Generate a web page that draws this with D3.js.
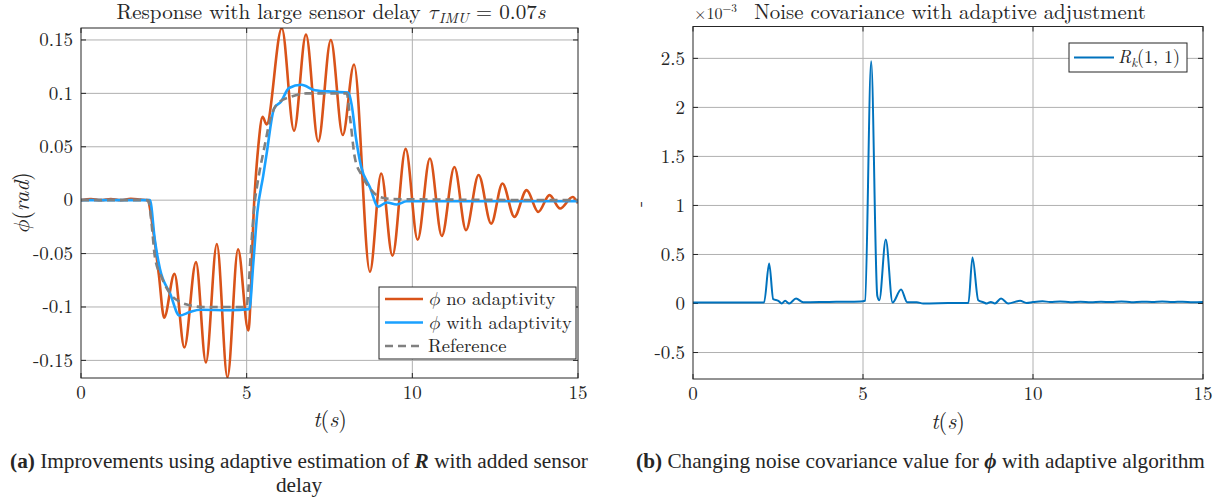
<!DOCTYPE html>
<html><head><meta charset="utf-8">
<script src="https://cdn.jsdelivr.net/npm/d3@7"></script>
<style>body{margin:0;background:#fff}svg{display:block}</style>
</head><body>
<svg id="c" width="1223" height="501" font-family="'Latin Modern Roman','Latin Modern Math','Liberation Serif',serif" fill="#262626"></svg>
<script>
// ---------- DATA ----------
const xTicks = [0, 5, 10, 15];
const phiTicks = [-0.15, -0.1, -0.05, 0, 0.05, 0.1, 0.15];
const phiTickLabels = ["-0.15", "-0.1", "-0.05", "0", "0.05", "0.1", "0.15"];
const rTicks = [-0.5, 0, 0.5, 1, 1.5, 2, 2.5];
const rTickLabels = ["-0.5", "0", "0.5", "1", "1.5", "2", "2.5"];

const tNoAdapt = [0, 0.3, 0.6, 0.9, 1.2, 1.5, 1.8, 2.0, 2.2, 2.35, 2.51, 2.82, 3.12, 3.47, 3.77, 4.10, 4.42, 4.74, 5.05, 5.23, 5.35, 5.48, 5.6, 6.06, 6.43, 6.79, 7.16, 7.54, 7.90, 8.24, 8.72, 9.06, 9.40, 9.80, 10.16, 10.53, 10.89, 11.27, 11.62, 12.0, 12.38, 12.72, 13.08, 13.45, 13.80, 14.14, 14.46, 14.84, 15.0];
const phiNoAdapt = [0, 0.001, 0, 0.001, 0, 0.0012, 0.0005, 0, -0.033, -0.07, -0.11, -0.069, -0.138, -0.058, -0.152, -0.041, -0.166, -0.046, -0.122, 0, 0.05, 0.078, 0.071, 0.161, 0.065, 0.155, 0.055, 0.150, 0.061, 0.127, -0.067, 0.025, -0.052, 0.048, -0.037, 0.039, -0.0335, 0.031, -0.028, 0.0235, -0.022, 0.0156, -0.0156, 0.0094, -0.011, 0.0047, -0.0078, 0.003, -0.003];

const tAdapt = [0, 2.08, 2.23, 2.38, 2.69, 2.97, 3.29, 3.59, 4.5, 5.08, 5.2, 5.32, 5.5, 5.6, 5.83, 6.03, 6.28, 6.65, 7.06, 7.62, 8.07, 8.17, 8.3, 8.45, 8.72, 8.97, 9.23, 9.53, 9.83, 12, 15];
const phiAdapt = [0, 0, -0.0375, -0.064, -0.0875, -0.108, -0.1047, -0.1026, -0.103, -0.102, -0.059, -0.012, 0.023, 0.043, 0.086, 0.092, 0.105, 0.108, 0.103, 0.1016, 0.1007, 0.089, 0.058, 0.032, 0.012, -0.006, -0.0022, -0.004, -0.001, -0.001, -0.001];

const tRef = [0, 2.03, 2.13, 2.23, 2.43, 2.69, 2.99, 3.29, 3.69, 5.0, 5.05, 5.15, 5.25, 5.31, 5.57, 5.68, 5.95, 6.35, 6.81, 8.02, 8.12, 8.27, 8.47, 8.72, 9.02, 9.43, 15];
const phiRef = [0, 0, -0.022, -0.053, -0.072, -0.0875, -0.0954, -0.0985, -0.1, -0.1, -0.084, -0.0375, 0, 0.0125, 0.055, 0.072, 0.091, 0.097, 0.1, 0.1, 0.077, 0.039, 0.0235, 0.011, 0.003, 0.001, 0];

const tR = [0, 2.09, 2.24, 2.36, 2.51, 2.61, 2.71, 2.83, 3.03, 3.24, 4.0, 4.6, 5.0, 5.06, 5.24, 5.42, 5.48, 5.67, 5.87, 6.12, 6.30, 6.58, 6.77, 7.5, 8.1, 8.22, 8.39, 8.54, 8.64, 8.76, 8.88, 9.06, 9.27, 9.62, 9.81, 10.0, 10.28, 10.5, 10.8, 11.1, 11.4, 11.7, 12.0, 12.3, 12.6, 12.9, 13.2, 13.5, 13.8, 14.1, 14.4, 14.7, 15.0];
const rValues = [0.01, 0.01, 0.408, 0.044, 0.027, 0, 0.027, 0, 0.051, 0.013, 0.016, 0.018, 0.023, 0.03, 2.47, 0.08, 0.034, 0.653, 0.01, 0.143, 0.013, 0.013, 0, 0.004, 0.006, 0.47, 0.034, 0.013, 0, 0.016, 0, 0.051, 0, 0.027, 0.006, 0.015, 0.023, 0.015, 0.02, 0.014, 0.019, 0.013, 0.018, 0.015, 0.02, 0.014, 0.018, 0.016, 0.021, 0.015, 0.019, 0.014, 0.016];

// ---------- LAYOUT ----------
const svg = d3.select("#c");
const gridCol = "#b0b0b0", axisCol = "#262626";
const tickFont = 19;
const capFont = "'Liberation Serif','Times New Roman',serif";

function fit(sel, target) {
  const fs = parseFloat(sel.attr("font-size"));
  const w = sel.node().getComputedTextLength();
  if (w > 0) sel.attr("font-size", (fs * target / w).toFixed(2));
  return sel;
}

function panel(cfg) {
  const x = d3.scaleLinear().domain([0, 15]).range([cfg.x0, cfg.x1]);
  const y = d3.scaleLinear().domain(cfg.yDomain).range([cfg.yBot, cfg.yTop]);
  const g = svg.append("g");
  g.selectAll(".gx").data(xTicks.filter(d => d > 0 && d < 15)).join("line")
    .attr("x1", d => x(d)).attr("x2", d => x(d)).attr("y1", cfg.yTop).attr("y2", cfg.yBot)
    .attr("stroke", gridCol).attr("stroke-width", 1);
  g.selectAll(".gy").data(cfg.yTicks).join("line")
    .attr("x1", cfg.x0).attr("x2", cfg.x1).attr("y1", d => y(d)).attr("y2", d => y(d))
    .attr("stroke", gridCol).attr("stroke-width", 1);
  const tl = 5;
  g.selectAll(".tb").data(xTicks).join("path")
    .attr("d", d => `M${x(d)},${cfg.yBot}v${-tl}M${x(d)},${cfg.yTop}v${tl}`)
    .attr("stroke", axisCol).attr("stroke-width", 1);
  g.selectAll(".tl").data(cfg.yTicks).join("path")
    .attr("d", d => `M${cfg.x0},${y(d)}h${tl}M${cfg.x1},${y(d)}h${-tl}`)
    .attr("stroke", axisCol).attr("stroke-width", 1);
  g.selectAll(".xl").data(xTicks).join("text")
    .attr("x", d => x(d)).attr("y", cfg.yBot + 21).attr("text-anchor", "middle")
    .attr("font-size", tickFont).text(d => d);
  g.selectAll(".yl").data(cfg.yTicks).join("text")
    .attr("x", cfg.x0 - 8).attr("y", d => y(d)).attr("dy", "0.33em").attr("text-anchor", "end")
    .attr("font-size", tickFont).text((d, i) => cfg.yTickLabels[i]);
  return {x, y, g};
}

function box(cfg) {
  svg.append("rect").attr("x", cfg.x0).attr("y", cfg.yTop)
    .attr("width", cfg.x1 - cfg.x0).attr("height", cfg.yBot - cfg.yTop)
    .attr("fill", "none").attr("stroke", axisCol).attr("stroke-width", 1);
}

// ----- Left panel -----
const L = {x0: 81, x1: 578, yTop: 28, yBot: 378, yDomain: [-0.1665, 0.1612], yTicks: phiTicks, yTickLabels: phiTickLabels};
const pl = panel(L);
svg.append("clipPath").attr("id", "clipL").append("rect")
  .attr("x", L.x0).attr("y", L.yTop).attr("width", L.x1 - L.x0).attr("height", L.yBot - L.yTop);
const lineL = d3.line().x(d => pl.x(d[0])).y(d => pl.y(d[1])).curve(d3.curveMonotoneX);
const seriesL = [
  {t: tNoAdapt, v: phiNoAdapt, color: "#D95319", dash: null, w: 2.6},
  {t: tAdapt, v: phiAdapt, color: "#1AA1FF", dash: null, w: 2.6},
  {t: tRef, v: phiRef, color: "#808080", dash: "8,5", w: 2.6}
];
svg.append("g").attr("clip-path", "url(#clipL)").selectAll("path").data(seriesL).join("path")
  .attr("d", s => lineL(s.t.map((t, i) => [t, s.v[i]])))
  .attr("fill", "none").attr("stroke", s => s.color).attr("stroke-width", s => s.w)
  .attr("stroke-dasharray", s => s.dash);
box(L);

// title
const tl = svg.append("text").attr("x", 331).attr("y", 19).attr("text-anchor", "middle").attr("font-size", 19);
tl.append("tspan").text("Response with large sensor delay ");
tl.append("tspan").attr("font-style", "italic").text("τ");
tl.append("tspan").attr("font-style", "italic").attr("font-size", "0.7em").attr("dy", "0.25em").text("IMU");
tl.append("tspan").attr("dy", "-0.18em").text(" = 0.07");
tl.append("tspan").attr("font-style", "italic").text("s");
fit(tl, 429);

// axis labels
function tLabel(cx, cy) {
  const t = svg.append("text").attr("x", cx).attr("y", cy).attr("text-anchor", "middle").attr("font-size", 22);
  t.append("tspan").attr("font-style", "italic").text("t");
  t.append("tspan").text("(");
  t.append("tspan").attr("font-style", "italic").text("s");
  t.append("tspan").text(")");
  return t;
}
tLabel(330, 427);
const yl = svg.append("text").attr("transform", "translate(29,203) rotate(-90)").attr("text-anchor", "middle").attr("font-size", 22);
yl.append("tspan").attr("font-style", "italic").text("ϕ");
yl.append("tspan").text("(");
yl.append("tspan").attr("font-style", "italic").text("rad");
yl.append("tspan").text(")");

// legend left
const legL = svg.append("g");
legL.append("rect").attr("x", 379).attr("y", 287).attr("width", 197).attr("height", 72)
  .attr("fill", "#fff").attr("stroke", axisCol).attr("stroke-width", 1);
const legNames = [["ϕ", " no adaptivity"], ["ϕ", " with adaptivity"], ["", "Reference"]];
const legTexts = [];
seriesL.forEach((s, i) => {
  const yy = 299 + i * 23.5;
  legL.append("line").attr("x1", 385).attr("x2", 423).attr("y1", yy).attr("y2", yy)
    .attr("stroke", s.color).attr("stroke-width", s.w).attr("stroke-dasharray", s.dash);
  const t = legL.append("text").attr("x", 428).attr("y", yy).attr("dy", "0.33em").attr("font-size", 18);
  if (legNames[i][0]) t.append("tspan").attr("font-style", "italic").text(legNames[i][0]);
  t.append("tspan").text(legNames[i][1]);
  legTexts.push(t);
});
fit(legTexts[1], 144);
legTexts[0].attr("font-size", legTexts[1].attr("font-size"));
legTexts[2].attr("font-size", legTexts[1].attr("font-size"));

// ----- Right panel -----
const R = {x0: 693, x1: 1203, yTop: 26.5, yBot: 379, yDomain: [-0.77, 2.825], yTicks: rTicks, yTickLabels: rTickLabels};
const pr = panel(R);
svg.append("clipPath").attr("id", "clipR").append("rect")
  .attr("x", R.x0).attr("y", R.yTop).attr("width", R.x1 - R.x0).attr("height", R.yBot - R.yTop);
const lineR = d3.line().x(d => pr.x(d[0])).y(d => pr.y(d[1])).curve(d3.curveMonotoneX);
svg.append("g").attr("clip-path", "url(#clipR)").append("path")
  .attr("d", lineR(tR.map((t, i) => [t, rValues[i]])))
  .attr("fill", "none").attr("stroke", "#0072BD").attr("stroke-width", 2);
box(R);

// exponent + title
const ex = svg.append("text").attr("x", 694).attr("y", 19).attr("font-size", 16);
ex.append("tspan").text("×10");
ex.append("tspan").attr("font-size", "0.7em").attr("dy", "-0.6em").text("−3");
const rt = svg.append("text").attr("x", 950).attr("y", 19).attr("text-anchor", "middle").attr("font-size", 19)
  .text("Noise covariance with adaptive adjustment");
fit(rt, 392);
tLabel(948, 429);
svg.append("text").attr("transform", "translate(645,204) rotate(-90)").attr("text-anchor", "middle").attr("font-size", 18).text("-");

// legend right
const legR = svg.append("g");
legR.append("rect").attr("x", 1069).attr("y", 43).attr("width", 118).attr("height", 29)
  .attr("fill", "#fff").attr("stroke", axisCol).attr("stroke-width", 1);
legR.append("line").attr("x1", 1074).attr("x2", 1114).attr("y1", 57.5).attr("y2", 57.5)
  .attr("stroke", "#0072BD").attr("stroke-width", 2);
const lr = legR.append("text").attr("x", 1118).attr("y", 57.5).attr("dy", "0.33em").attr("font-size", 18);
lr.append("tspan").attr("font-style", "italic").text("R");
lr.append("tspan").attr("font-style", "italic").attr("font-size", "0.7em").attr("dy", "0.3em").text("k");
lr.append("tspan").attr("dy", "-0.21em").text("(1, 1)");
fit(lr, 62);

// captions
const c1 = svg.append("text").attr("x", 299).attr("y", 468).attr("text-anchor", "middle").attr("font-size", 19).attr("font-family", capFont);
c1.append("tspan").attr("font-weight", "bold").text("(a)");
c1.append("tspan").text(" Improvements using adaptive estimation of ");
c1.append("tspan").attr("font-weight", "bold").attr("font-style", "italic").text("R");
c1.append("tspan").text(" with added sensor");
fit(c1, 578);
svg.append("text").attr("x", 299).attr("y", 492).attr("text-anchor", "middle").attr("font-family", capFont)
  .attr("font-size", c1.attr("font-size")).text("delay");
const c2 = svg.append("text").attr("x", 920.5).attr("y", 468).attr("text-anchor", "middle").attr("font-size", 19).attr("font-family", capFont);
c2.append("tspan").attr("font-weight", "bold").text("(b)");
c2.append("tspan").text(" Changing noise covariance value for ");
c2.append("tspan").attr("font-weight", "bold").attr("font-style", "italic").text("ϕ");
c2.append("tspan").text(" with adaptive algorithm");
fit(c2, 569);
</script>
</body></html>
